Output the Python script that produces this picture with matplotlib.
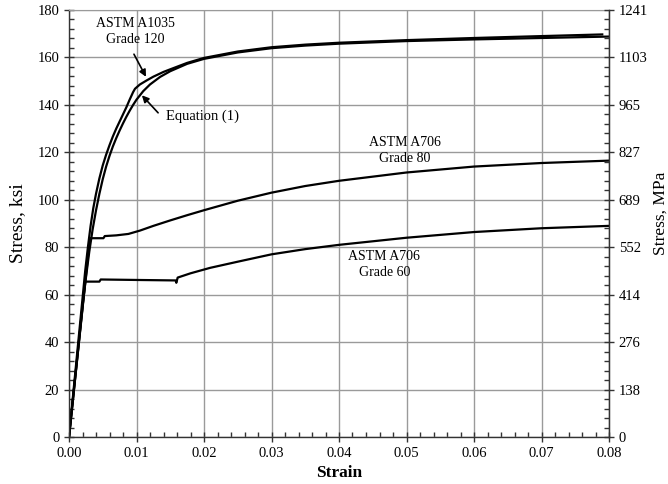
import matplotlib
matplotlib.use("Agg")
import matplotlib.pyplot as plt
from matplotlib.ticker import MultipleLocator

plt.rcParams['font.family'] = ['Liberation Serif', 'DejaVu Serif']

# ---- data ----
a1035_strain = [0, 0.0024, 0.0028, 0.0032, 0.0036, 0.004, 0.0045, 0.005, 0.0055, 0.006,
                0.0065, 0.007, 0.0075, 0.008, 0.0085, 0.009, 0.0095, 0.00978, 0.0105,
                0.0115, 0.0125, 0.014, 0.015, 0.0175, 0.02, 0.025, 0.03, 0.035, 0.04,
                0.05, 0.06, 0.07, 0.079]
a1035_stress = [0, 70, 80, 89, 96.5, 102.5, 109, 114.5, 119, 123,
                126.7, 130, 133, 136, 139, 142.3, 145.4, 146.8, 148.6,
                150.3, 151.9, 153.9, 155, 157.7, 159.8, 162.5, 164.3, 165.4, 166.2,
                167.3, 168.2, 169, 169.7]

eq1_strain = [0, 0.002, 0.0025, 0.003, 0.0035, 0.004, 0.0045, 0.005, 0.0055, 0.006,
              0.0065, 0.007, 0.0075, 0.008, 0.0085, 0.009, 0.0095, 0.01, 0.011, 0.012,
              0.0135, 0.015, 0.0175, 0.02, 0.025, 0.03, 0.035, 0.04, 0.05, 0.06, 0.07, 0.08]
eq1_stress = [0, 55, 67, 78, 87.5, 95.5, 102.5, 108.7, 114, 118.5,
              122.5, 126, 129.2, 132.2, 135, 137.6, 140, 142.2, 145.8, 148.6,
              151.8, 154.2, 157.3, 159.4, 162.1, 163.9, 165, 165.8, 166.9, 167.6, 168.2, 168.8]

g80_strain = [0, 0.0031, 0.0051, 0.0053, 0.0070, 0.0088, 0.0105, 0.0125, 0.015, 0.0175,
              0.02, 0.025, 0.03, 0.035, 0.04, 0.05, 0.06, 0.07, 0.08]
g80_stress = [0, 83.8, 83.8, 84.7, 85.0, 85.6, 87.0, 89.0, 91.3, 93.5,
              95.6, 99.6, 103, 105.8, 108, 111.5, 114, 115.5, 116.5]

g60_strain = [0, 0.0024, 0.0045, 0.0047, 0.0100, 0.0158, 0.0159, 0.0161, 0.018, 0.0209,
              0.025, 0.03, 0.035, 0.04, 0.05, 0.06, 0.07, 0.08]
g60_stress = [0, 65.5, 65.5, 66.4, 66.2, 66.0, 65.0, 67.2, 69.0, 71.3,
              73.9, 77, 79.2, 81, 84, 86.4, 88, 89]

x_ticks = [0.00, 0.01, 0.02, 0.03, 0.04, 0.05, 0.06, 0.07, 0.08]
y_ticks = [0, 20, 40, 60, 80, 100, 120, 140, 160, 180]
mpa_labels = ['0', '138', '276', '414', '552', '689', '827', '965', '1103', '1241']

# ---- figure ----
fig = plt.figure(figsize=(6.68, 4.84), dpi=100)
ax = fig.add_axes([69/668, 1-437/484, 540/668, 427/484])

lw = 1.6
for xs, ys in [(a1035_strain, a1035_stress), (eq1_strain, eq1_stress),
               (g80_strain, g80_stress), (g60_strain, g60_stress)]:
    ax.plot(xs, ys, color='black', lw=lw, solid_joinstyle='round')

ax.set_xlim(0, 0.08)
ax.set_ylim(0, 180)
ax.set_xticks(x_ticks)
ax.set_xticklabels([f'{v:.2f}' for v in x_ticks])
ax.set_yticks(y_ticks)
ax.xaxis.set_minor_locator(MultipleLocator(0.002))
ax.yaxis.set_minor_locator(MultipleLocator(4))
ax.grid(True, which='major', color='#9a9a9a', lw=1.0)
ax.set_axisbelow(True)

ax.tick_params(axis='both', which='major', direction='inout', length=7, width=1,
               labelsize=10.5, color='#333333')
ax.tick_params(axis='both', which='minor', direction='in', length=3.5, width=1,
               color='#333333')
ax.tick_params(axis='y', which='both', right=False)
ax.tick_params(axis='x', which='both', top=False)

for s in ['left', 'bottom', 'right']:
    ax.spines[s].set_color('#333333')
    ax.spines[s].set_linewidth(1.0)
ax.spines['top'].set_color('#9a9a9a')

ax.set_xlabel('Strain', fontsize=12.5, fontweight='bold', labelpad=4)
ax.set_ylabel('Stress, ksi', fontsize=14, labelpad=8)

ax2 = ax.twinx()
ax2.set_ylim(0, 180)
ax2.set_yticks(y_ticks)
ax2.set_yticklabels(mpa_labels)
ax2.yaxis.set_minor_locator(MultipleLocator(4))
ax2.tick_params(axis='y', which='major', direction='inout', length=7, width=1,
                labelsize=10.5, color='#333333')
ax2.tick_params(axis='y', which='minor', direction='in', length=3.5, width=1,
                color='#333333')
for s in ax2.spines.values():
    s.set_visible(False)
ax2.spines['right'].set_visible(True)
ax2.spines['right'].set_color('#333333')
ax2.set_ylabel('Stress, MPa', fontsize=12.5)
ax2.yaxis.set_label_coords(1.081, 0.525)

# ---- annotations ----
fs = 10
ax.text(0.0098, 174.3, 'ASTM A1035', ha='center', va='center', fontsize=fs)
ax.text(0.0098, 167.6, 'Grade 120', ha='center', va='center', fontsize=fs)
ax.annotate('', xy=(0.0116, 150.8), xytext=(0.00943, 162.4),
            arrowprops=dict(arrowstyle='-|>', color='black', lw=1.2, mutation_scale=10))
ax.annotate('', xy=(0.01052, 144.9), xytext=(0.01348, 135.8),
            arrowprops=dict(arrowstyle='-|>', color='black', lw=1.2, mutation_scale=10))
ax.text(0.0143, 135, 'Equation (1)', ha='left', va='center', fontsize=10.5)

ax.text(0.0497, 124, 'ASTM A706', ha='center', va='center', fontsize=fs)
ax.text(0.0497, 117.2, 'Grade 80', ha='center', va='center', fontsize=fs)
ax.text(0.0467, 76, 'ASTM A706', ha='center', va='center', fontsize=fs)
ax.text(0.0467, 69.2, 'Grade 60', ha='center', va='center', fontsize=fs)

fig.savefig('out.png', dpi=100)
